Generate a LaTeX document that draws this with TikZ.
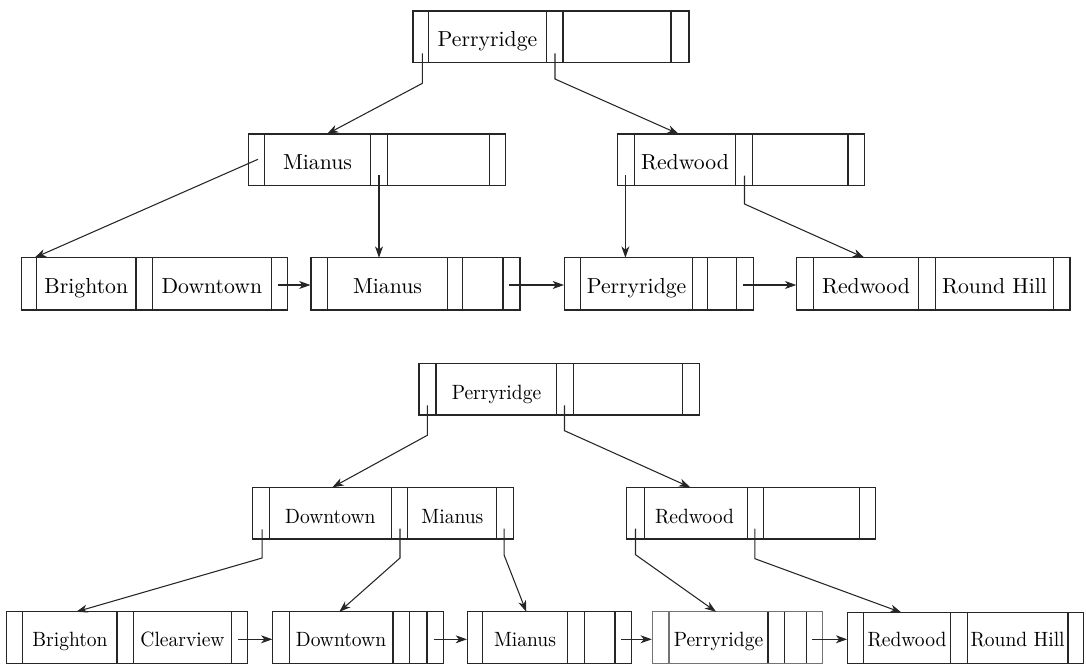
\documentclass[tikz,border=0pt]{standalone}
\usepackage{fontspec}
\setmainfont{lmroman10}[Extension=.otf, UprightFont=*-regular, BoldFont=*-bold, ItalicFont=*-italic, BoldItalicFont=*-bolditalic]
\usetikzlibrary{arrows.meta,fit}
\tikzset{
  boxst/.style={draw=black!85, line width=0.8pt, inner sep=0pt},
  divline/.style={draw=black!85, line width=0.8pt},
  ptr/.style={draw=black!85, line width=0.8pt, -{Stealth[length=8.5pt,width=6pt,inset=2.5pt]}},
  topfont/.style={font=\rmfamily\fontsize{16.3}{20}\selectfont, inner sep=0pt, anchor=base},
  botfont/.style={font=\rmfamily\fontsize{15.5}{20}\selectfont\addfontfeatures{FakeStretch=0.945}, inner sep=0pt, anchor=base},
}
\newcommand\treebox[7][black!85]{%
  \node[boxst, draw=#1, fit={(#3,#4) (#5,#6)}] (#2) {};
  \foreach \xx in {#7} {\draw[divline] (\xx,#4) -- (\xx,#6);}
}
\begin{document}
\begin{tikzpicture}[x=0.75pt, y=-0.75pt]
\useasboundingbox (0,0) rectangle (1086,664);

% ================= top tree =================
\treebox{R1}{413}{11}{689}{62.7}{428.5,546.5,563,671}
\treebox{M1}{248.6}{134}{505.5}{185.7}{264.2,370.8,387.5,489.3}
\treebox{M2}{617.4}{134}{864.3}{185.7}{634.4,735.5,752.1,848}
\treebox{L1}{21.5}{257.7}{287.4}{310}{36.7,136,152.7,271.1}
\treebox{L2}{311}{257.7}{520}{310}{327.6,447.4,462.3,503}
\treebox{L3}{564.5}{257.7}{753.5}{310}{580.7,692.6,707.8,736.9}
\treebox{L4}{796.8}{257.7}{1070}{310}{813.4,918.7,935.3,1053.7}

\node[topfont] (R1k1) at (487.5,46.8) {Perryridge};
\node[topfont] (M1k1) at (317.5,169.8) {Mianus};
\node[topfont] (M2k1) at (685,169.8) {Redwood};
\node[topfont] (L1k1) at (86.3,293.8) {Brighton};
\node[topfont] (L1k2) at (211.9,293.8) {Downtown};
\node[topfont] (L2k1) at (387.5,293.8) {Mianus};
\node[topfont] (L3k1) at (636.6,293.8) {Perryridge};
\node[topfont] (L4k1) at (866,293.8) {Redwood};
\node[topfont] (L4k2) at (994.5,293.8) {Round Hill};

\coordinate (R1s1) at (422.4,53.3); \coordinate (R1b1) at (422.4,83.3); \coordinate (M1in) at (327,134);
\coordinate (R1s2) at (555,53.3);   \coordinate (R1b2) at (555,79);     \coordinate (M2in) at (678.7,134);
\coordinate (M1s1) at (258,159.3);  \coordinate (L1in) at (34.6,257.7);
\coordinate (M1s2) at (379,175);    \coordinate (L2in) at (379,257.7);
\coordinate (M2s1) at (625.4,175);  \coordinate (L3in) at (625.4,257.7);
\coordinate (M2s2) at (744.5,175.7);\coordinate (M2b2) at (744.5,204);  \coordinate (L4in) at (864.3,257.7);
\coordinate (L1n) at (278,285); \coordinate (L2n) at (509,285); \coordinate (L3n) at (743,285);

\draw[ptr] (R1s1) -- (R1b1) -- (M1in);
\draw[ptr] (R1s2) -- (R1b2) -- (M2in);
\draw[ptr] (M1s1) -- (L1in);
\draw[ptr] (M1s2) -- (L2in);
\draw[ptr] (M2s1) -- (L3in);
\draw[ptr] (M2s2) -- (M2b2) -- (L4in);
\draw[ptr] (L1n) -- (L1n -| L2.west);
\draw[ptr] (L2n) -- (L2n -| L3.west);
\draw[ptr] (L3n) -- (L3n -| L4.west);

% ================= bottom tree =================
\treebox{R2}{419}{363.3}{699.2}{415}{436,556.9,573.5,682.5}
\treebox{N1}{252.8}{487.3}{513.5}{539}{269.4,391.3,407.9,496.9}
\treebox{N2}{626.1}{487.3}{875.8}{539}{644.5,747.3,763.6,859.1}
\treebox{B1}{6.2}{611.8}{247.9}{663.3}{22.9,117,133.7,231.3}
\treebox{B2}{272.9}{611.8}{443.6}{663.3}{289.5,393,409.3,427}
\treebox{B3}{467.5}{611.8}{631.6}{663.3}{482.3,567.9,584.6,615}
\treebox[black!55]{B4}{652.4}{611.8}{822.8}{663.3}{768,784.3,806.8}
\draw[divline, draw=black!55] (669,611.8) -- (669,663.3);
\treebox{B5}{847.7}{612.5}{1083.7}{663.3}{863.3,950.9,967.2,1068}

\node[botfont] (R2k1) at (496.5,399) {Perryridge};
\node[botfont] (N1k1) at (330.3,523) {Downtown};
\node[botfont] (N1k2) at (452.4,523) {Mianus};
\node[botfont] (N2k1) at (694.5,523) {Redwood};
\node[botfont] (B1k1) at (70,646.8) {Brighton};
\node[botfont] (B1k2) at (182.5,646.8) {Clearview};
\node[botfont] (B2k1) at (341,646.8) {Downtown};
\node[botfont] (B3k1) at (525,646.8) {Mianus};
\node[botfont] (B4k1) at (718.5,646.8) {Perryridge};
\node[botfont] (B5k1) at (907,646.8) {Redwood};
\node[botfont] (B5k2) at (1017.6,646.8) {Round Hill};

\coordinate (R2s1) at (427.3,405.3); \coordinate (R2b1) at (427.3,435.3); \coordinate (N1in) at (332.4,487.3);
\coordinate (R2s2) at (564.5,405.3); \coordinate (R2b2) at (564.5,430.7); \coordinate (N2in) at (690.2,487.3);
\coordinate (N1s1) at (262.1,529.3); \coordinate (N1b1) at (262.1,558);   \coordinate (B1in) at (76.2,611.8);
\coordinate (N1s2) at (400,528.7);   \coordinate (N1b2) at (400,558);     \coordinate (B2in) at (339.3,611.8);
\coordinate (N1s3) at (504.2,528.7); \coordinate (N1b3) at (504.2,555.3); \coordinate (B3in) at (526.3,611.8);
\coordinate (N2s1) at (635.5,528.7); \coordinate (N2b1) at (635.5,554.7); \coordinate (B4in) at (716.1,611.8);
\coordinate (N2s2) at (754.9,528.7); \coordinate (N2b2) at (754.9,558.7); \coordinate (B5in) at (901.4,612.5);
\coordinate (B1n) at (238.2,639.3); \coordinate (B2n) at (433.5,639.3);
\coordinate (B3n) at (620.9,639.3); \coordinate (B4n) at (812.4,639.3);

\draw[ptr] (R2s1) -- (R2b1) -- (N1in);
\draw[ptr] (R2s2) -- (R2b2) -- (N2in);
\draw[ptr] (N1s1) -- (N1b1) -- (B1in);
\draw[ptr] (N1s2) -- (N1b2) -- (B2in);
\draw[ptr] (N1s3) -- (N1b3) -- (B3in);
\draw[ptr] (N2s1) -- (N2b1) -- (B4in);
\draw[ptr] (N2s2) -- (N2b2) -- (B5in);
\draw[ptr] (B1n) -- (B1n -| B2.west);
\draw[ptr] (B2n) -- (B2n -| B3.west);
\draw[ptr] (B3n) -- (B3n -| B4.west);
\draw[ptr] (B4n) -- (B4n -| B5.west);
\end{tikzpicture}
\end{document}
